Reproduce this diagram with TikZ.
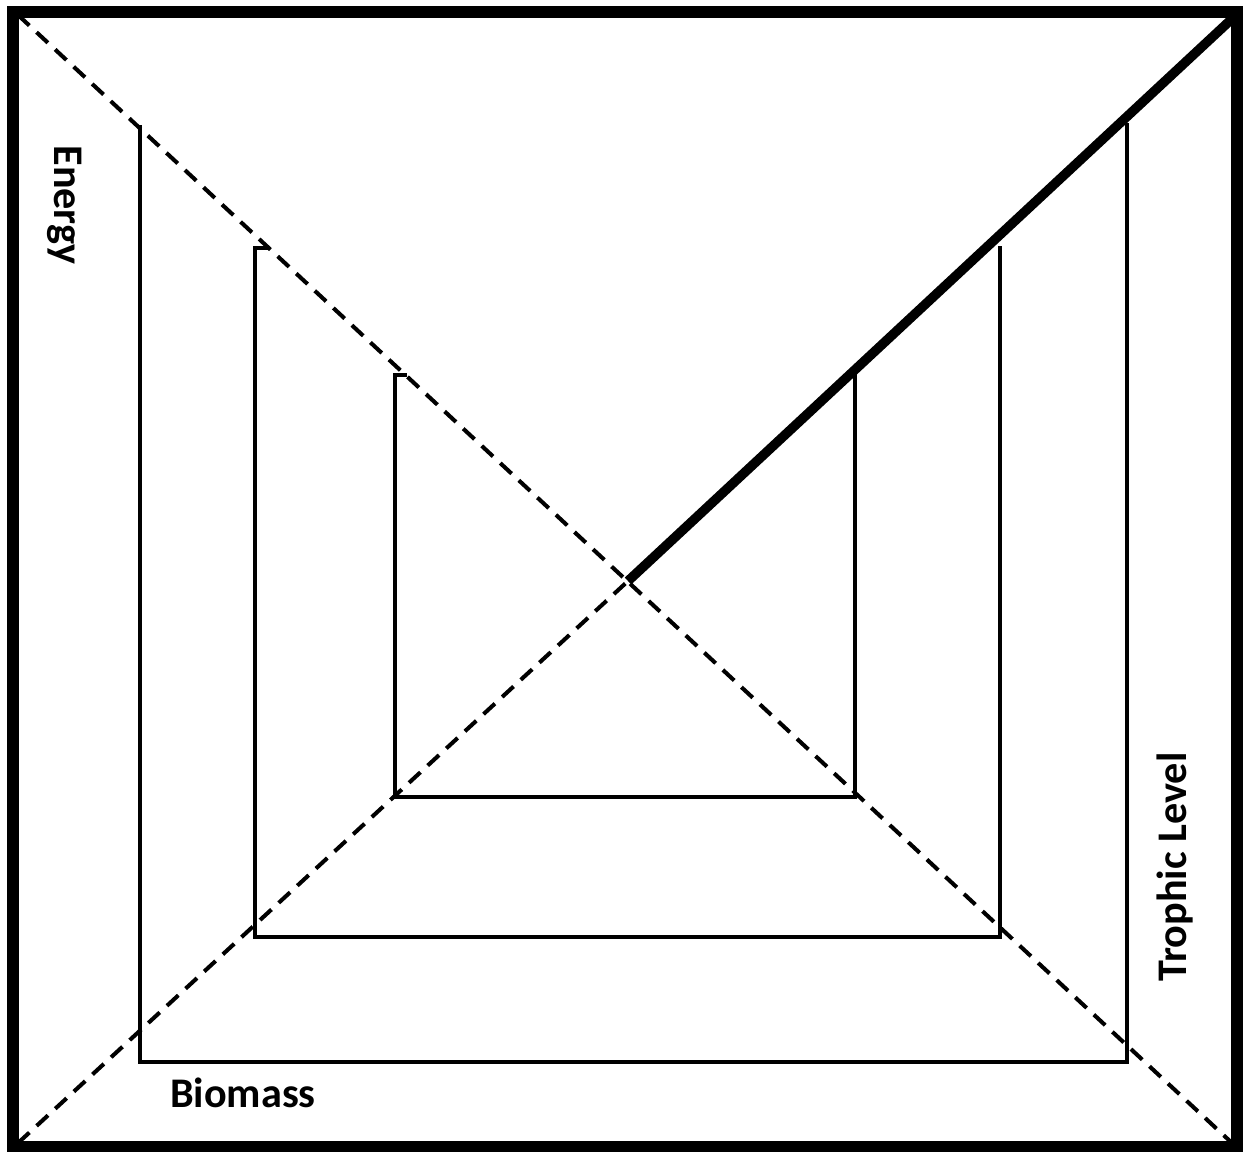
\documentclass[tikz,border=0pt]{standalone}
\usepackage{fontspec}
\setmainfont{Carlito}
\usetikzlibrary{calc}

\begin{document}
\begin{tikzpicture}[x=0.01cm, y=-0.01cm,
  wall/.style={line width=0.95pt},
  guide/.style={line width=1.15pt, dash pattern=on 4.4pt off 2.8pt},
  axislabel/.style={font=\bfseries\fontsize{12}{14}\selectfont}]
\useasboundingbox (0,0) rectangle (1243,1151);

% Frame
\draw[line width=3.3pt] (13,12) rectangle (1237,1147);

% Corners and centre
\coordinate (tl) at (18,15);
\coordinate (bl) at (18,1143);
\coordinate (br) at (1232,1143);
\coordinate (tr) at (1235,16);
\coordinate (mid) at (628,581);

% Diagonals
\draw[guide] (tl) -- (br);
\draw[guide] (bl) -- (mid);

% Trophic level steps
\draw[wall] (140,125) -- (140,1062) -- (1127,1062) -- (1127,123);
\draw[wall] (270,248) -- (255,248) -- (255,937) -- (1000,937) -- (1000,246);
\draw[wall] (407,375) -- (395,375) -- (395,797) -- (855,797) -- (855,372);

% Thick edge
\draw[line width=2.7pt] (mid) -- (tr);

% Labels
\node[axislabel, rotate=-90] (energy) at (65,205) {Energy};
\node[axislabel] (biomass) at (243,1093) {Biomass};
\node[axislabel, rotate=90] (trophic) at (1175,867) {Trophic Level};
\end{tikzpicture}
\end{document}
